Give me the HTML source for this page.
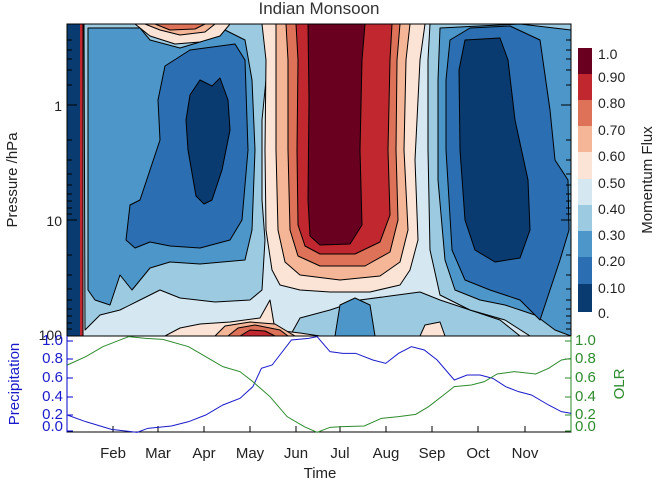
<!DOCTYPE html>
<html><head><style>
body{margin:0;background:#fff;}
svg{display:block;font-family:"Liberation Sans",sans-serif;}
</style></head><body>
<svg width="672" height="480" viewBox="0 0 672 480" xmlns="http://www.w3.org/2000/svg">
<rect width="672" height="480" fill="#fff"/>
<text x="319" y="14" font-size="17" text-anchor="middle" fill="#333">Indian Monsoon</text>
<defs><clipPath id="cp"><rect x="67" y="24" width="504" height="312"/></clipPath></defs>
<g clip-path="url(#cp)" stroke="#000" stroke-width="1" stroke-linejoin="round">
<rect x="67" y="24" width="504" height="312" fill="#d5e7f1" stroke="none"/>
<polygon fill="#9ccae1" points="290,336 300,318 330,310 360,300 390,296 420,292 440,300 470,310 500,320 520,336"/>
<polygon fill="#4d96c9" points="335,336 340,305 355,298 370,305 375,336"/>
<polygon fill="#fbe3d6" points="165,336 180,328 200,324 230,322 260,318 270,300 275,330 300,333 320,336"/>
<polygon fill="#f5b597" points="215,336 225,326 250,322 275,324 295,336"/>
<polygon fill="#de7258" points="228,336 238,328 255,325 280,330 288,336"/>
<polygon fill="#c0272e" points="240,336 250,330 265,331 275,336"/>
<polygon fill="#fbe3d6" points="420,336 425,325 440,322 445,336"/>
<polygon fill="#9ccae1" points="84,24 270,24 268,60 262,120 262,200 265,240 262,290 250,300 215,302 180,298 160,290 140,300 120,310 100,315 85,330"/>
<polygon fill="#4d96c9" points="88,28 140,28 150,40 180,48 200,42 225,30 245,40 252,80 255,150 252,230 245,260 200,264 170,262 150,268 132,290 120,275 110,305 95,300 88,290"/>
<polygon fill="#2b6eb2" points="165,66 190,50 235,44 245,60 248,150 242,220 230,240 200,248 170,246 150,242 135,248 126,240 130,205 140,200 150,170 160,140 158,100"/>
<polygon fill="#0a3b70" points="200,80 212,86 220,78 228,100 230,130 222,170 212,200 204,204 196,196 188,150 186,120 190,95"/>
<polygon fill="#fbe3d6" points="135,24 230,24 220,36 200,42 175,44 150,36"/>
<polygon fill="#f5b597" points="145,24 215,24 205,32 180,35 160,30"/>
<polygon fill="#de7258" points="155,24 205,24 195,29 170,30"/>
<polygon fill="#fbe3d6" points="262,24 425,24 420,60 415,160 418,240 410,270 400,285 370,292 330,292 300,290 280,285 272,270 266,230 265,150 266,60"/>
<polygon fill="#f5b597" points="276,24 410,24 406,60 404,150 408,230 400,262 380,276 340,280 300,275 285,262 278,230 276,150 276,60"/>
<polygon fill="#de7258" points="286,24 400,24 397,60 396,150 398,220 390,252 365,266 320,266 298,256 290,230 288,150 288,60"/>
<polygon fill="#c0272e" points="296,24 392,24 390,60 388,150 390,215 380,242 355,254 320,254 305,246 298,225 297,150 298,60"/>
<polygon fill="#6a0020" points="308,24 365,24 362,60 360,150 362,225 350,244 320,245 310,236 308,200 309,100"/>
<polygon fill="#9ccae1" points="430,24 571,24 571,336 530,336 505,320 470,310 440,295 430,250 428,150 428,60"/>
<polygon fill="#4d96c9" points="440,28 520,24 571,30 571,336 555,330 535,315 505,305 480,300 455,290 445,260 438,180 438,80"/>
<polygon fill="#2b6eb2" points="450,40 470,28 510,26 540,40 550,110 555,160 568,180 569,230 560,260 550,290 540,320 520,300 490,290 465,280 452,250 446,150 446,80"/>
<polygon fill="#0a3b70" points="465,40 500,38 508,60 515,120 528,180 530,230 520,258 495,262 475,250 465,220 460,150 459,70"/>
<rect x="67" y="24" width="13" height="312" fill="#0a3b70" stroke="none"/>
<rect x="80" y="24" width="3" height="312" fill="#c0272e" stroke="none"/>
<line x1="83" y1="24" x2="83" y2="336"/>
</g>
<rect x="67" y="24" width="504" height="312" fill="none" stroke="#000"/>
<g stroke="#000">
<line x1="67" y1="105" x2="77" y2="105"/><line x1="67" y1="220" x2="77" y2="220"/>
<line x1="571" y1="105" x2="561" y2="105"/><line x1="571" y1="220" x2="561" y2="220"/>
<!-- minor ticks -->
<path d="M67 40h5M67 50h5M67 59h5M67 70h5M67 85h5M67 140h5M67 160h5M67 174h5M67 185h5M67 194h5M67 201h5M67 208h5M67 214h5M67 255h5M67 275h5M67 289h5M67 300h5M67 309h5M67 316h5M67 323h5M67 329h5
M571 40h-5M571 50h-5M571 59h-5M571 70h-5M571 85h-5M571 140h-5M571 160h-5M571 174h-5M571 185h-5M571 194h-5M571 201h-5M571 208h-5M571 214h-5M571 255h-5M571 275h-5M571 289h-5M571 300h-5M571 309h-5M571 316h-5M571 323h-5M571 329h-5"/>
<path d="M113 432v-6M158 432v-6M204 432v-6M250 432v-6M296 432v-6M340 432v-6M386 432v-6M432 432v-6M478 432v-6M525 432v-6"/>
</g>
<g>
<rect x="578" y="48" width="14" height="27" fill="#6a0020"/>
<rect x="578" y="74" width="14" height="27" fill="#c0272e"/>
<rect x="578" y="100" width="14" height="27" fill="#de7258"/>
<rect x="578" y="126" width="14" height="27" fill="#f5b597"/>
<rect x="578" y="152" width="14" height="28" fill="#fbe3d6"/>
<rect x="578" y="179" width="14" height="27" fill="#d5e7f1"/>
<rect x="578" y="205" width="14" height="27" fill="#9ccae1"/>
<rect x="578" y="231" width="14" height="27" fill="#4d96c9"/>
<rect x="578" y="257" width="14" height="28" fill="#2b6eb2"/>
<rect x="578" y="284" width="14" height="28" fill="#0a3b70"/>
</g>
<g font-size="14" fill="#222">
<text x="598" y="59">1.0</text><text x="598" y="82">0.90</text><text x="598" y="108">0.80</text>
<text x="598" y="135">0.70</text><text x="598" y="161">0.60</text><text x="598" y="188">0.50</text>
<text x="598" y="214">0.40</text><text x="598" y="240">0.30</text><text x="598" y="266">0.20</text>
<text x="598" y="293">0.10</text><text x="598" y="318">0.</text>
</g>
<g font-size="14" fill="#222" text-anchor="end">
<text x="62" y="111">1</text><text x="62" y="226">10</text><text x="62" y="340">100</text>
</g>
<text transform="translate(17,180) rotate(-90)" font-size="15" fill="#222" text-anchor="middle">Pressure /hPa</text>
<text transform="translate(652,180) rotate(-90)" font-size="15" fill="#222" text-anchor="middle">Momentum Flux</text>
<rect x="67" y="336" width="504" height="96" fill="none" stroke="#000"/>
<line x1="67" y1="336" x2="67" y2="432" stroke="#00c"/>
<line x1="571" y1="336" x2="571" y2="432" stroke="#2a8a2a"/>
<path stroke="#00c" d="M67 341h6M67 359h6M67 378h6M67 397h6M67 415h6M67 431h6"/>
<path stroke="#2a8a2a" d="M571 341h-6M571 359h-6M571 378h-6M571 397h-6M571 415h-6M571 431h-6"/>
<g transform="translate(0,320) scale(0.42857,0.33333)" fill="none" stroke-width="1">
<polyline vector-effect="non-scaling-stroke" stroke="#1a1acc" points="157,285 200,305 260,328 320,337 345,325 400,318 440,305 480,285 520,255 560,235 590,200 610,145 635,135 680,60 720,55 740,50 770,95 800,100 830,100 870,120 900,130 930,100 960,80 990,90 1020,120 1060,180 1090,165 1120,165 1150,175 1180,200 1210,215 1240,225 1280,255 1310,275 1333,280"/>
<polyline vector-effect="non-scaling-stroke" stroke="#2e8b2e" points="157,135 200,110 240,80 300,50 340,55 380,58 440,80 480,110 520,140 560,155 590,185 630,230 670,290 710,320 740,337 770,322 800,320 850,318 890,295 930,290 970,283 1000,260 1040,220 1060,200 1100,195 1130,185 1160,162 1200,155 1250,162 1280,145 1310,120 1333,115"/>
</g>
<g font-size="15" fill="#1a1acc" text-anchor="end">
<text x="63" y="345">1.0</text><text x="63" y="363">0.8</text><text x="63" y="382">0.6</text>
<text x="63" y="401">0.4</text><text x="63" y="419">0.2</text><text x="63" y="431">0.0</text>
</g>
<text transform="translate(19,384) rotate(-90)" font-size="15" fill="#1a1acc" text-anchor="middle">Precipitation</text>
<g font-size="15" fill="#2e8b2e">
<text x="575" y="345">1.0</text><text x="575" y="363">0.8</text><text x="575" y="382">0.6</text>
<text x="575" y="401">0.4</text><text x="575" y="419">0.2</text><text x="575" y="431">0.0</text>
</g>
<text transform="translate(624,384) rotate(-90)" font-size="15" fill="#2e8b2e" text-anchor="middle">OLR</text>
<g font-size="15" fill="#222" text-anchor="middle">
<text x="113" y="458">Feb</text><text x="158" y="458">Mar</text><text x="204" y="458">Apr</text>
<text x="250" y="458">May</text><text x="296" y="458">Jun</text><text x="340" y="458">Jul</text>
<text x="386" y="458">Aug</text><text x="432" y="458">Sep</text><text x="478" y="458">Oct</text>
<text x="525" y="458">Nov</text>
<text x="320" y="478">Time</text>
</g>
</svg>
</body></html>
